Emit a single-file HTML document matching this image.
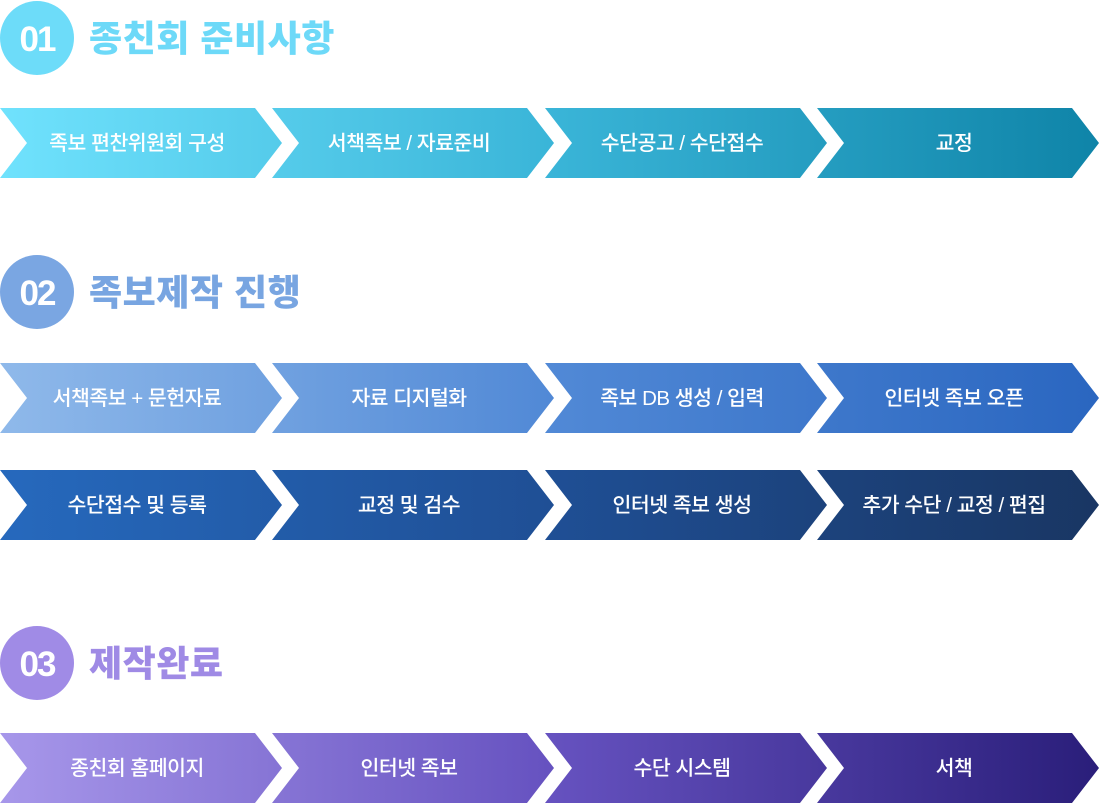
<!DOCTYPE html>
<html><head><meta charset="utf-8"><style>
body{margin:0;background:#fff;width:1099px;height:806px;overflow:hidden}
svg text{font-family:"Liberation Sans","Noto Sans CJK KR",sans-serif}
</style></head><body>
<svg width="1099" height="806" xmlns="http://www.w3.org/2000/svg">
<defs>
<linearGradient id="g1" gradientUnits="userSpaceOnUse" x1="0" y1="0" x2="1099" y2="0"><stop offset="0" stop-color="#70e2fd"/><stop offset="0.5" stop-color="#3ab5d8"/><stop offset="1" stop-color="#0f84a8"/></linearGradient>
<linearGradient id="g2" gradientUnits="userSpaceOnUse" x1="0" y1="0" x2="1099" y2="0"><stop offset="0" stop-color="#8fb9ea"/><stop offset="0.5" stop-color="#5189d6"/><stop offset="1" stop-color="#2a66c0"/></linearGradient>
<linearGradient id="g3" gradientUnits="userSpaceOnUse" x1="0" y1="0" x2="1099" y2="0"><stop offset="0" stop-color="#2669bd"/><stop offset="0.5" stop-color="#1f4f95"/><stop offset="1" stop-color="#193663"/></linearGradient>
<linearGradient id="g4" gradientUnits="userSpaceOnUse" x1="0" y1="0" x2="1099" y2="0"><stop offset="0" stop-color="#a797ea"/><stop offset="0.5" stop-color="#6652c0"/><stop offset="1" stop-color="#2a1e7a"/></linearGradient>
</defs>
<circle cx="37" cy="38" r="37" fill="#6ddcf9"/>
<text x="37" y="51" font-size="35" font-weight="900" fill="#fff" text-anchor="middle" letter-spacing="-2">01</text>
<text x="89" y="51" font-size="36" font-weight="900" fill="#6dd9f8" letter-spacing="0.5">종친회 준비사항</text>
<circle cx="37" cy="292" r="37" fill="#7aa6e2"/>
<text x="37" y="305" font-size="35" font-weight="900" fill="#fff" text-anchor="middle" letter-spacing="-2">02</text>
<text x="89" y="305" font-size="36" font-weight="900" fill="#78a5e1" letter-spacing="0.5">족보제작 진행</text>
<circle cx="37" cy="663" r="37" fill="#a08be6"/>
<text x="37" y="676" font-size="35" font-weight="900" fill="#fff" text-anchor="middle" letter-spacing="-2">03</text>
<text x="89" y="676" font-size="36" font-weight="900" fill="#9f8ae5" letter-spacing="0.5">제작완료</text>
<g fill="url(#g1)">
<path d="M0 108H255L282 143L255 178H0L27 143Z"/><path d="M272 108H527L554 143L527 178H272L299 143Z"/><path d="M545 108H800L827 143L800 178H545L572 143Z"/><path d="M817 108H1072L1099 143L1072 178H817L844 143Z"/>
</g>
<g fill="url(#g2)">
<path d="M0 363H255L282 398L255 433H0L27 398Z"/><path d="M272 363H527L554 398L527 433H272L299 398Z"/><path d="M545 363H800L827 398L800 433H545L572 398Z"/><path d="M817 363H1072L1099 398L1072 433H817L844 398Z"/>
</g>
<g fill="url(#g3)">
<path d="M0 470H255L282 505L255 540H0L27 505Z"/><path d="M272 470H527L554 505L527 540H272L299 505Z"/><path d="M545 470H800L827 505L800 540H545L572 505Z"/><path d="M817 470H1072L1099 505L1072 540H817L844 505Z"/>
</g>
<g fill="url(#g4)">
<path d="M0 733H255L282 768L255 803H0L27 768Z"/><path d="M272 733H527L554 768L527 803H272L299 768Z"/><path d="M545 733H800L827 768L800 803H545L572 768Z"/><path d="M817 733H1072L1099 768L1072 803H817L844 768Z"/>
</g>
<g font-size="20.5" font-weight="500" fill="#fff" text-anchor="middle" letter-spacing="-0.5">
<text x="137" y="150">족보 편찬위원회 구성</text><text x="409" y="150">서책족보 / 자료준비</text><text x="682" y="150">수단공고  / 수단접수</text><text x="954" y="150">교정</text>
<text x="137" y="405">서책족보 + 문헌자료</text><text x="409" y="405">자료 디지털화</text><text x="682" y="405">족보 DB 생성 / 입력</text><text x="954" y="405">인터넷 족보 오픈</text>
<text x="137" y="512">수단접수 및 등록</text><text x="409" y="512">교정 및 검수</text><text x="682" y="512">인터넷 족보 생성</text><text x="954" y="512">추가 수단 / 교정 / 편집</text>
<text x="137" y="775">종친회 홈페이지</text><text x="409" y="775">인터넷 족보</text><text x="682" y="775">수단 시스템</text><text x="954" y="775">서책</text>
</g>
</svg>
</body></html>
